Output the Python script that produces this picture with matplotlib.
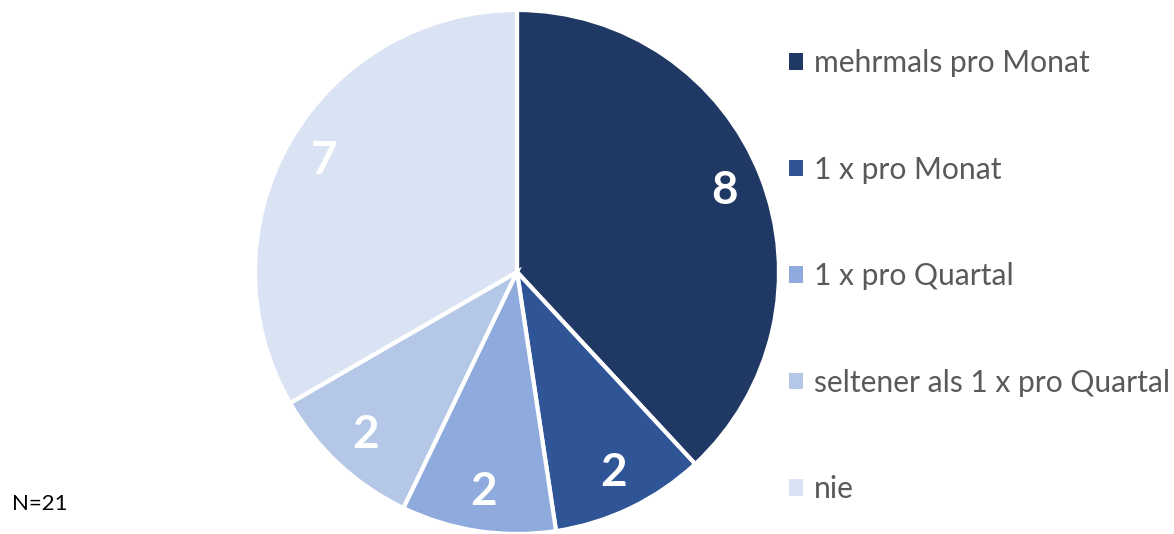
import matplotlib.pyplot as plt

categories = ["mehrmals pro Monat", "1 x pro Monat", "1 x pro Quartal",
              "seltener als 1 x pro Quartal", "nie"]
counts = [8, 2, 2, 2, 7]
colors = ["#203864", "#2F5597", "#8FAADC", "#B4C7E7", "#DAE3F3"]
total = sum(counts)

plt.rcParams['font.family'] = ['Lato', 'DejaVu Sans']

fig = plt.figure(figsize=(11.74, 5.34), dpi=100)
# square axes holding the pie, radius ~262 px
ax = fig.add_axes([(517 - 262) / 1174, (534 - 272 - 262) / 534,
                   524 / 1174, 524 / 534])

wedges, texts = ax.pie(counts, colors=colors, startangle=90, counterclock=False,
                       labels=[str(c) for c in counts], labeldistance=0.85,
                       wedgeprops=dict(edgecolor="white", linewidth=3),
                       textprops=dict(color="white", fontsize=33, fontweight="bold"))
for t in texts:
    t.set_ha("center")
    t.set_va("center")
ax.set_xlim(-1, 1)
ax.set_ylim(-1, 1)
ax.set_aspect("equal")

leg = fig.legend(wedges, categories, loc="upper left",
                 bbox_to_anchor=(777 / 1174, 1 - 37 / 534),
                 frameon=False, fontsize=21.6, handlelength=0.47, handleheight=0.47,
                 handletextpad=0.35, labelspacing=2.62, borderaxespad=0)
for t in leg.get_texts():
    t.set_color("#595959")
for h in leg.legend_handles:
    h.set_edgecolor("none")

fig.text(12 / 1174, 1 - 504 / 534, f"N={total}", fontsize=16, va="center",
         ha="left", color="black")

fig.savefig("out.png", dpi=100)
